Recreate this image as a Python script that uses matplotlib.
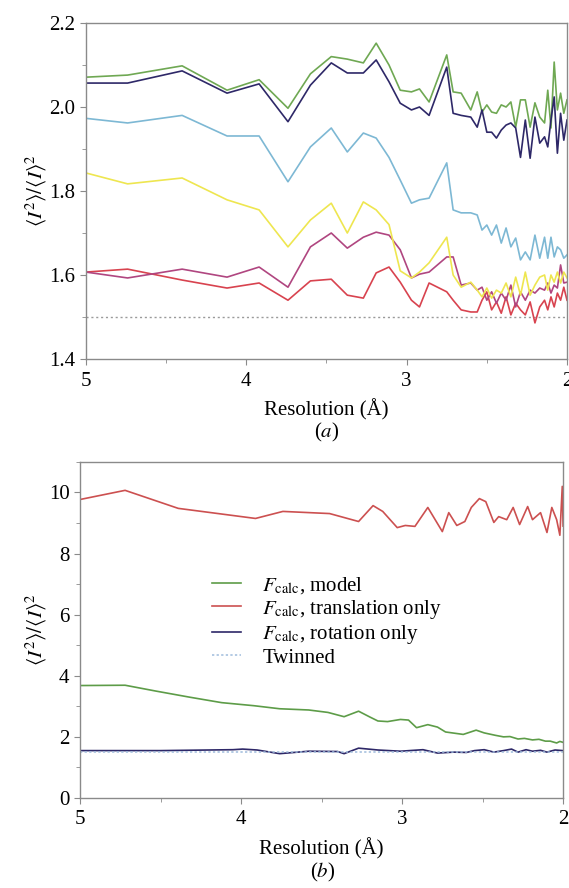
import matplotlib
matplotlib.use("Agg")
import matplotlib.pyplot as plt
from matplotlib.ticker import MultipleLocator, FormatStrFormatter

plt.rcParams['font.family'] = ['Liberation Serif', 'DejaVu Serif']
plt.rcParams['mathtext.fontset'] = 'stix'

# DATA, panel (a)
res_a = [5.00, 4.74, 4.40, 4.12, 3.92, 3.74, 3.60, 3.47, 3.37, 3.27,
         3.19, 3.11, 3.04, 2.97, 2.92, 2.86, 2.75, 2.71, 2.66, 2.60,
         2.56, 2.53, 2.50, 2.47, 2.44, 2.41, 2.38, 2.35, 2.32, 2.29,
         2.26, 2.23, 2.20, 2.17, 2.14, 2.12, 2.10, 2.08, 2.06, 2.04,
         2.02, 2.00]
green_a = [2.071, 2.076, 2.098, 2.040, 2.065, 1.997, 2.079, 2.120, 2.114, 2.105,
           2.152, 2.100, 2.040, 2.036, 2.043, 2.012, 2.124, 2.036, 2.033, 1.993,
           2.036, 1.988, 2.005, 1.988, 1.985, 2.005, 2.000, 2.012, 1.952, 2.017,
           2.017, 1.952, 2.010, 1.976, 1.962, 2.040, 1.950, 2.107, 1.993, 2.033,
           1.985, 2.017]
navy_a = [2.057, 2.057, 2.086, 2.033, 2.055, 1.965, 2.052, 2.105, 2.081, 2.081,
          2.112, 2.060, 2.009, 1.993, 2.000, 1.980, 2.095, 1.985, 1.980, 1.976,
          1.952, 1.993, 1.940, 1.940, 1.926, 1.945, 1.957, 1.962, 1.950, 1.880,
          1.969, 1.878, 1.976, 1.914, 1.929, 1.905, 1.969, 2.024, 1.890, 1.985,
          1.921, 1.969]
blue_a = [1.973, 1.962, 1.980, 1.931, 1.931, 1.822, 1.905, 1.950, 1.893, 1.938,
          1.926, 1.880, 1.826, 1.771, 1.779, 1.783, 1.867, 1.755, 1.748, 1.748,
          1.743, 1.707, 1.719, 1.695, 1.719, 1.676, 1.712, 1.667, 1.688, 1.636,
          1.655, 1.636, 1.695, 1.640, 1.690, 1.640, 1.690, 1.643, 1.667, 1.660,
          1.640, 1.648]
yellow_a = [1.843, 1.817, 1.831, 1.779, 1.755, 1.667, 1.731, 1.771, 1.700, 1.774,
            1.755, 1.720, 1.610, 1.593, 1.607, 1.629, 1.690, 1.600, 1.571, 1.583,
            1.564, 1.548, 1.569, 1.545, 1.564, 1.557, 1.581, 1.548, 1.595, 1.552,
            1.607, 1.552, 1.576, 1.595, 1.600, 1.564, 1.600, 1.583, 1.607, 1.581,
            1.607, 1.593]
magenta_a = [1.607, 1.593, 1.614, 1.595, 1.619, 1.571, 1.667, 1.700, 1.664, 1.690,
             1.702, 1.695, 1.660, 1.593, 1.602, 1.607, 1.643, 1.643, 1.576, 1.581,
             1.564, 1.571, 1.540, 1.560, 1.533, 1.557, 1.540, 1.576, 1.524, 1.560,
             1.540, 1.564, 1.557, 1.569, 1.564, 1.581, 1.557, 1.576, 1.569, 1.624,
             1.581, 1.583]
red_a = [1.607, 1.614, 1.588, 1.569, 1.581, 1.540, 1.586, 1.590, 1.552, 1.545,
         1.605, 1.619, 1.583, 1.540, 1.524, 1.581, 1.560, 1.540, 1.517, 1.512,
         1.512, 1.540, 1.560, 1.517, 1.536, 1.509, 1.548, 1.505, 1.533, 1.517,
         1.505, 1.536, 1.486, 1.524, 1.540, 1.517, 1.548, 1.524, 1.557, 1.540,
         1.571, 1.540]

# DATA, panel (b)
res_trans = [5.00, 4.72, 4.39, 3.91, 3.74, 3.45, 3.27, 3.18, 3.12, 3.03,
             2.98, 2.92, 2.84, 2.75, 2.71, 2.66, 2.61, 2.57, 2.52, 2.48,
             2.43, 2.40, 2.35, 2.31, 2.27, 2.22, 2.19, 2.14, 2.10, 2.07,
             2.04, 2.02, 2.005, 2.00]
trans_b = [9.77, 10.07, 9.48, 9.15, 9.38, 9.31, 9.05, 9.57, 9.38, 8.85,
           8.92, 8.89, 9.51, 8.72, 9.34, 8.92, 9.05, 9.51, 9.80, 9.70,
           9.02, 9.21, 9.11, 9.51, 8.95, 9.54, 9.11, 9.34, 8.69, 9.51,
           9.11, 8.60, 10.2, 8.90]
res_model = [5.00, 4.72, 4.53, 4.32, 4.12, 3.92, 3.76, 3.58, 3.46, 3.36,
             3.27, 3.20, 3.15, 3.09, 3.01, 2.96, 2.91, 2.84, 2.78, 2.73,
             2.62, 2.54, 2.49, 2.42, 2.37, 2.33, 2.28, 2.24, 2.19, 2.15,
             2.11, 2.08, 2.04, 2.02, 2.00]
model_b = [3.68, 3.69, 3.50, 3.30, 3.12, 3.02, 2.92, 2.88, 2.80, 2.66,
           2.84, 2.65, 2.52, 2.50, 2.57, 2.55, 2.30, 2.40, 2.32, 2.16,
           2.08, 2.22, 2.13, 2.05, 2.00, 2.01, 1.93, 1.95, 1.90, 1.92,
           1.86, 1.86, 1.80, 1.85, 1.82]
res_rot = [5.00, 4.50, 4.05, 3.99, 3.90, 3.76, 3.58, 3.40, 3.36, 3.27,
           3.15, 3.01, 2.87, 2.78, 2.68, 2.60, 2.55, 2.49, 2.43, 2.37,
           2.32, 2.28, 2.23, 2.19, 2.14, 2.10, 2.05, 2.00]
rot_b = [1.55, 1.55, 1.58, 1.60, 1.57, 1.45, 1.53, 1.52, 1.45, 1.63,
         1.57, 1.53, 1.58, 1.47, 1.50, 1.49, 1.55, 1.58, 1.50, 1.55,
         1.60, 1.50, 1.58, 1.53, 1.56, 1.50, 1.57, 1.55]
twinned = 1.5

ylab = r'$\langle I^2\rangle/\langle I\rangle^2$'
spine_col = '#8a8a8a'
FS = 15


def style_axes(ax, ymin, ymax, ymaj, ymin_step):
    ax.set_xlim(5, 2)
    ax.set_ylim(ymin, ymax)
    ax.xaxis.set_major_locator(MultipleLocator(1))
    ax.xaxis.set_minor_locator(MultipleLocator(0.5))
    ax.yaxis.set_major_locator(MultipleLocator(ymaj))
    ax.yaxis.set_minor_locator(MultipleLocator(ymin_step))
    for s in ax.spines.values():
        s.set_color(spine_col)
        s.set_linewidth(1.0)
    ax.tick_params(which='both', direction='out', color=spine_col,
                   labelsize=FS, top=False, right=False)
    ax.tick_params(which='major', length=4)
    ax.tick_params(which='minor', length=3)
    ax.tick_params(axis='x', which='major', pad=5)
    ax.set_xlabel('Resolution (Å)', fontsize=FS, labelpad=6)
    ax.set_ylabel(ylab, fontsize=FS, labelpad=0)


fig = plt.figure(figsize=(5.69, 8.88), dpi=100)

# (a)
ax1 = fig.add_axes([0.151, 0.5957, 0.8455, 0.3784])
ax1.axhline(twinned, color='#9a9a9a', lw=1.0, ls=(0, (1.5, 2)))
ax1.plot(res_a, red_a, color='#d8434f', lw=1.2)
ax1.plot(res_a, magenta_a, color='#b04680', lw=1.2)
ax1.plot(res_a, yellow_a, color='#eee650', lw=1.2)
ax1.plot(res_a, blue_a, color='#7db8d4', lw=1.2)
ax1.plot(res_a, green_a, color='#6fa853', lw=1.2)
ax1.plot(res_a, navy_a, color='#2e2868', lw=1.2)
style_axes(ax1, 1.4, 2.2, 0.2, 0.1)
ax1.yaxis.set_major_formatter(FormatStrFormatter('%.1f'))
fig.text(0.575, 1 - 432 / 888, '($a$)', ha='center', va='center', fontsize=FS)

# (b)
ax2 = fig.add_axes([0.1406, 0.1014, 0.849, 0.3784])
ax2.plot(res_model, model_b, color='#5d9c48', lw=1.2,
         label=r'$F_{\mathrm{calc}}$, model')
ax2.plot(res_trans, trans_b, color='#cc5050', lw=1.2,
         label=r'$F_{\mathrm{calc}}$, translation only')
ax2.plot(res_rot, rot_b, color='#2e2868', lw=1.2,
         label=r'$F_{\mathrm{calc}}$, rotation only')
ax2.axhline(twinned, color='#9fbcdc', lw=1.1, ls=(0, (1.5, 1.5)),
            label='Twinned')
style_axes(ax2, 0, 11, 2, 1)
ax2.legend(loc='upper left', bbox_to_anchor=(0.235, 0.72), frameon=False,
           fontsize=FS, handlelength=1.4, handletextpad=1.0,
           labelspacing=0.1)
fig.text(0.567, 1 - 872 / 888, '($b$)', ha='center', va='center', fontsize=FS)

fig.savefig('out.png', dpi=100)
